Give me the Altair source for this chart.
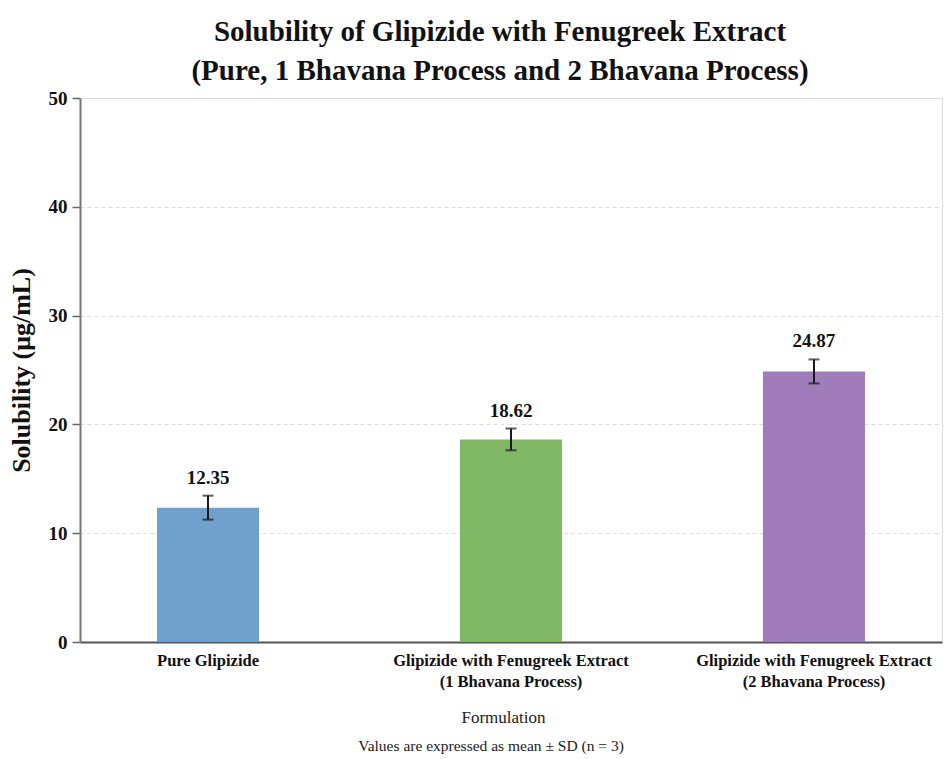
import altair as alt
import pandas as pd

categories = [
    "Pure Glipizide",
    "Glipizide with Fenugreek Extract\n(1 Bhavana Process)",
    "Glipizide with Fenugreek Extract\n(2 Bhavana Process)",
]
means = [12.35, 18.62, 24.87]
sds = [1.1, 1.0, 1.1]
colors = ["#6fa1cc", "#80b865", "#a07cba"]
y_ticks = [0, 10, 20, 30, 40, 50]

title_lines = [
    "Solubility of Glipizide with Fenugreek Extract",
    "(Pure, 1 Bhavana Process and 2 Bhavana Process)",
]
note = "Values are expressed as mean \u00b1 SD (n = 3)"

df = pd.DataFrame({
    "cat": categories,
    "mean": means,
    "sd": sds,
    "color": colors,
})
df["lo"] = df["mean"] - df["sd"]
df["hi"] = df["mean"] + df["sd"]
df["label"] = [f"{m:.2f}" for m in means]

FONT = "Liberation Serif"
W, H = 862, 544

x_enc = alt.X(
    "cat:N",
    sort=categories,
    scale=alt.Scale(paddingInner=0.663, paddingOuter=0.254),
    axis=alt.Axis(
        title="Formulation",
        labelExpr="split(datum.label, '\\n')",
        labelAngle=0,
        labelLimit=0,
        labelFont=FONT,
        labelFontWeight="bold",
        labelFontSize=16.5,
        labelColor="#111",
        labelLineHeight=21,
        labelPadding=10,
        ticks=False,
        domainColor="#555",
        domainWidth=2,
        titleFont=FONT,
        titleFontWeight="normal",
        titleFontSize=17,
        titleColor="#222",
        titlePadding=20,
        titleX=W / 2 - 8,
        grid=False,
    ),
)

y_scale = alt.Scale(domain=[0, 50], nice=False)

base = alt.Chart(df)

bars = base.mark_bar().encode(
    x=x_enc,
    y=alt.Y(
        "mean:Q",
        scale=y_scale,
        axis=alt.Axis(
            title="Solubility (\u03bcg/mL)",
            values=y_ticks,
            labelFont=FONT,
            labelFontWeight="bold",
            labelFontSize=19,
            labelColor="#111",
            labelPadding=5,
            tickSize=8,
            tickColor="#666",
            tickWidth=1.5,
            domainColor="#777",
            domainWidth=2,
            titleFont=FONT,
            titleFontWeight="bold",
            titleFontSize=26,
            titleColor="#111",
            titlePadding=14,
            grid=True,
            gridColor="#dddddd",
            gridDash=[4, 3],
            gridWidth=1,
        ),
    ),
    color=alt.Color("color:N", scale=None),
)

rules = base.mark_rule(color="#1a1a1a", strokeWidth=2).encode(
    x=alt.X("cat:N", sort=categories),
    y=alt.Y("lo:Q", scale=y_scale),
    y2="hi:Q",
)
caps_lo = base.mark_tick(color="#1a1a1a", thickness=2, size=11, orient="horizontal").encode(
    x=alt.X("cat:N", sort=categories),
    y=alt.Y("lo:Q", scale=y_scale),
)
caps_hi = base.mark_tick(color="#1a1a1a", thickness=2, size=11, orient="horizontal").encode(
    x=alt.X("cat:N", sort=categories),
    y=alt.Y("hi:Q", scale=y_scale),
)
labels = base.mark_text(
    font=FONT, fontWeight="bold", fontSize=19, color="#111",
    baseline="bottom", dy=-8,
).encode(
    x=alt.X("cat:N", sort=categories),
    y=alt.Y("hi:Q", scale=y_scale),
    text="label:N",
)

note_df = pd.DataFrame({"t": [note]})
footnote = alt.Chart(note_df).mark_text(
    font=FONT, fontSize=15.5, color="#222", baseline="middle", align="center",
).encode(
    text="t:N",
    x=alt.value(W / 2 - 20),
    y=alt.value(H + 104),
)

chart = alt.layer(bars, rules, caps_lo, caps_hi, labels, footnote).properties(
    width=W,
    height=H,
    title=alt.TitleParams(
        text=title_lines,
        font=FONT,
        fontWeight="bold",
        fontSize=29,
        color="#111",
        anchor="middle",
        dx=-11,
        offset=3,
        lineHeight=39,
    ),
    padding={"left": 80, "top": 98, "right": 3, "bottom": 117},
    autosize=alt.AutoSizeParams(type="none"),
).configure_view(
    stroke="#808080", strokeWidth=1.5
).configure(background="white")

chart.save("out.html", embed_options={"renderer": "svg", "actions": False})
